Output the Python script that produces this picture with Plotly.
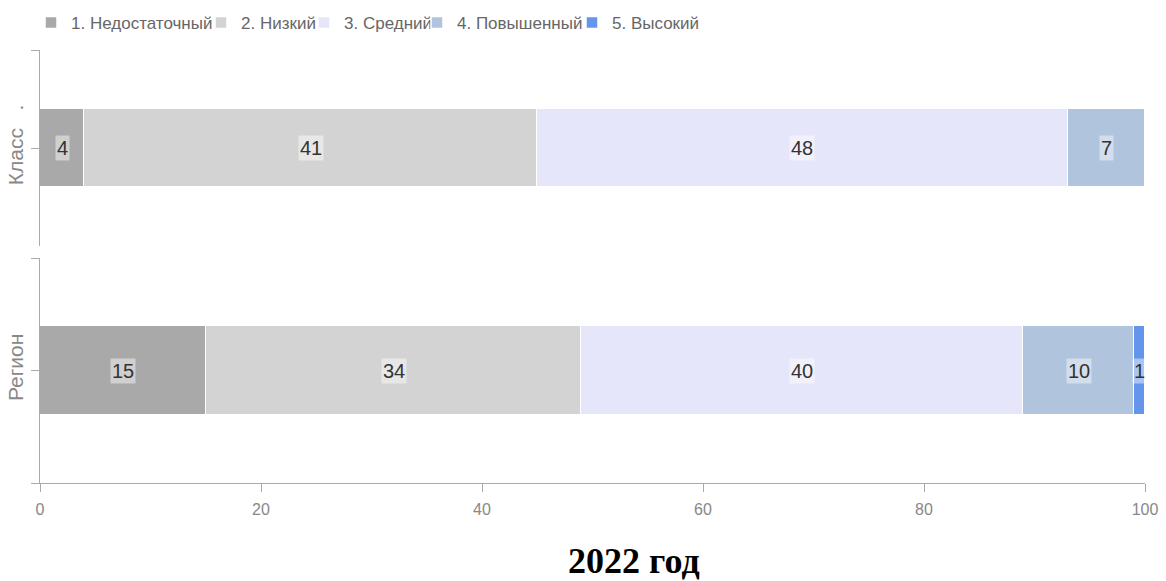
import plotly.graph_objects as go

# Achievement levels and their shares (%)
levels = ["1. Недостаточный", "2. Низкий", "3. Средний", "4. Повышенный", "5. Высокий"]
colors = ["#A9A9A9", "#D3D3D3", "#E6E6FA", "#B0C4DE", "#6495ED"]
class_values = [4, 41, 48, 7, 0]
region_values = [15, 34, 40, 10, 1]
groups = ["Класс", "Регион"]
x_ticks = [0, 20, 40, 60, 80, 100]
title_text = "2022 год"

# one small legend box per level, laid out along the top edge (px from left)
legend_left_px = [31, 201, 304, 417, 572]
legend_ids = ["legend"] + ["legend%d" % i for i in range(2, len(levels) + 1)]

fig = go.Figure()

panels = [(class_values, "y", False), (region_values, "y2", True)]
for values, yax, show in panels:
    for name, color, v, lid in zip(levels, colors, values, legend_ids):
        fig.add_trace(go.Bar(
            x=[v], y=[0], orientation="h", name=name,
            marker=dict(color=color, line=dict(color="white", width=1.5)),
            width=0.4, xaxis="x", yaxis=yax, legend=lid,
            legendgroup=name, showlegend=show, hoverinfo="x+name",
        ))
    # value labels centred on each segment
    start = 0
    for v in values:
        if v > 0:
            fig.add_annotation(
                x=start + v / 2, y=0, xref="x", yref=yax, text=str(v),
                showarrow=False, font=dict(size=20, color="#333333"),
                bgcolor="rgba(255,255,255,0.45)", borderpad=1,
            )
        start += v

W, H = 1166, 581
for lid, px in zip(legend_ids, legend_left_px):
    fig.update_layout({lid: dict(
        orientation="h", xref="container", yref="container",
        x=px / W, xanchor="left", y=1 - 23 / H, yanchor="middle",
        font=dict(size=17, color="#666666"), bgcolor="rgba(0,0,0,0)",
    )})

axis_color = "#AAAAAA"
tick_font = dict(size=16, color="#888888")
ylabel_font = dict(size=21, color="#888888")

fig.update_layout(
    width=W, height=H,
    margin=dict(l=40, r=21, t=50, b=98),
    paper_bgcolor="white", plot_bgcolor="white",
    barmode="stack", bargap=0,
    font=dict(family="Liberation Sans, Arial, sans-serif"),
    showlegend=True,
    xaxis=dict(range=[0, 100], anchor="y2", tickvals=x_ticks, ticks="outside",
               ticklen=8, tickcolor=axis_color, showline=True, linecolor=axis_color,
               showgrid=False, zeroline=False, tickfont=tick_font,
               automargin=False, ticklabelstandoff=4),
    yaxis=dict(domain=[0.547, 1.0], range=[-0.5, 0.5], anchor="x",
               tickvals=[0, 0.5], ticktext=["Класс\u00a0\u00a0\u00a0.", ""],
               tickangle=-90, ticks="outside", ticklen=8, tickcolor=axis_color,
               showline=True, linecolor=axis_color, showgrid=False, zeroline=False,
               tickfont=ylabel_font, fixedrange=True, automargin=False),
    yaxis2=dict(domain=[0.0, 0.5196], range=[-0.5, 0.5], anchor="x",
                tickvals=[-0.5, 0, 0.5], ticktext=["", "Регион", ""],
                tickangle=-90, ticks="outside", ticklen=8, tickcolor=axis_color,
                showline=True, linecolor=axis_color, showgrid=False, zeroline=False,
                tickfont=ylabel_font, fixedrange=True, automargin=False),
)

fig.add_annotation(
    x=0.538, y=-0.180, xref="paper", yref="paper", text="<b>" + title_text + "</b>",
    showarrow=False, font=dict(family="Liberation Serif, Times New Roman, serif",
                               size=36, color="black"),
    xanchor="center", yanchor="middle",
)

fig.write_html("out.html")
